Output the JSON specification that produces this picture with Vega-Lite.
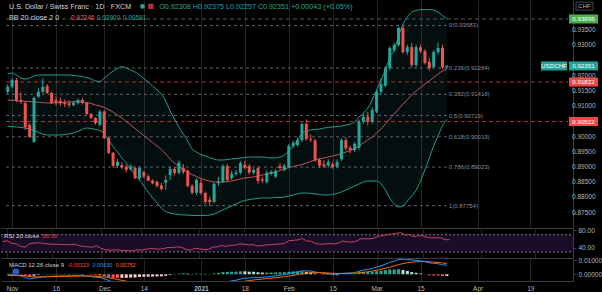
{
"$schema":"https://vega.github.io/schema/vega-lite/v6.json",
"background":"#000000",
"padding":{"left":0,"top":0,"right":0,"bottom":0},
"bounds":"flush",
"spacing":1,
"config":{"view":{"stroke":null},"font":"Liberation Sans","axis":{"labelFont":"Liberation Sans","labelFontSize":6.5,"labelColor":"#b2b5be","domainColor":"#3a3d45","tickColor":"#3a3d45","gridColor":"#222428","title":null,"labelOverlap":false},"line":{"strokeWidth":1}},
"datasets":{
"c":[
{"i":0,"o":0.9150,"h":0.9175,"l":0.9143,"c":0.9167,"u":0.92085,"m":0.91230,"b":0.90358,"r":54,"md":-0.0004,"sg":-0.0008,"hs":0.0004},
{"i":1,"o":0.9167,"h":0.9195,"l":0.9162,"c":0.9189,"u":0.92118,"m":0.91220,"b":0.90352,"r":56,"md":-0.0003,"sg":-0.0007,"hs":0.0004},
{"i":2,"o":0.9189,"h":0.9195,"l":0.9116,"c":0.9123,"u":0.92053,"m":0.91210,"b":0.90342,"r":50,"md":-0.0008,"sg":-0.00072,"hs":-0.00008},
{"i":3,"o":0.9123,"h":0.9149,"l":0.9110,"c":0.9118,"u":0.91954,"m":0.91197,"b":0.90325,"r":49,"md":-0.0012,"sg":-0.00082,"hs":-0.00038},
{"i":4,"o":0.9113,"h":0.9120,"l":0.9024,"c":0.9034,"u":0.91921,"m":0.91187,"b":0.90309,"r":43,"md":-0.0022,"sg":-0.0011,"hs":-0.0011},
{"i":5,"o":0.9041,"h":0.9047,"l":0.8999,"c":0.9001,"u":0.91954,"m":0.91177,"b":0.90276,"r":41,"md":-0.0032,"sg":-0.00152,"hs":-0.00168},
{"i":6,"o":0.8985,"h":0.9134,"l":0.8982,"c":0.9130,"u":0.92020,"m":0.91164,"b":0.90227,"r":49,"md":-0.0027,"sg":-0.00176,"hs":-0.00094},
{"i":7,"o":0.9134,"h":0.9162,"l":0.9130,"c":0.9150,"u":0.92053,"m":0.91154,"b":0.90161,"r":50.5,"md":-0.0022,"sg":-0.00185,"hs":-0.00035},
{"i":8,"o":0.9150,"h":0.9194,"l":0.9145,"c":0.9167,"u":0.92053,"m":0.91144,"b":0.90111,"r":51.5,"md":-0.0017,"sg":-0.00182,"hs":0.00012},
{"i":9,"o":0.9169,"h":0.9176,"l":0.9143,"c":0.9146,"u":0.92053,"m":0.91131,"b":0.90078,"r":50,"md":-0.0015,"sg":-0.00176,"hs":0.00026},
{"i":10,"o":0.9146,"h":0.9150,"l":0.9110,"c":0.9114,"u":0.92053,"m":0.91131,"b":0.90078,"r":48.5,"md":-0.0014,"sg":-0.00169,"hs":0.00029},
{"i":11,"o":0.9123,"h":0.9135,"l":0.9105,"c":0.9114,"u":0.92053,"m":0.91138,"b":0.90078,"r":48,"md":-0.0013,"sg":-0.00161,"hs":0.00031},
{"i":12,"o":0.9120,"h":0.9130,"l":0.9103,"c":0.9112,"u":0.92053,"m":0.91148,"b":0.90078,"r":47.8,"md":-0.0012,"sg":-0.00153,"hs":0.00033},
{"i":13,"o":0.9114,"h":0.9125,"l":0.9100,"c":0.9110,"u":0.92053,"m":0.91158,"b":0.90095,"r":47.5,"md":-0.0011,"sg":-0.00144,"hs":0.00034},
{"i":14,"o":0.9112,"h":0.9122,"l":0.9098,"c":0.9106,"u":0.92053,"m":0.91164,"b":0.90111,"r":47,"md":-0.0011,"sg":-0.00137,"hs":0.00027},
{"i":15,"o":0.9106,"h":0.9120,"l":0.9102,"c":0.9114,"u":0.92036,"m":0.91171,"b":0.90144,"r":47.5,"md":-0.0010,"sg":-0.0013,"hs":0.0003},
{"i":16,"o":0.9113,"h":0.9128,"l":0.9108,"c":0.9123,"u":0.92020,"m":0.91174,"b":0.90194,"r":48,"md":-0.0009,"sg":-0.00122,"hs":0.00032},
{"i":17,"o":0.9123,"h":0.9130,"l":0.9108,"c":0.9114,"u":0.92003,"m":0.91164,"b":0.90260,"r":45,"md":-0.0009,"sg":-0.00116,"hs":0.00026},
{"i":18,"o":0.9113,"h":0.9116,"l":0.9074,"c":0.9077,"u":0.91970,"m":0.91148,"b":0.90309,"r":43,"md":-0.0012,"sg":-0.00117,"hs":-0.00003},
{"i":19,"o":0.9077,"h":0.9080,"l":0.9060,"c":0.9064,"u":0.91921,"m":0.91115,"b":0.90292,"r":42,"md":-0.0016,"sg":-0.00125,"hs":-0.00035},
{"i":20,"o":0.9064,"h":0.9066,"l":0.9042,"c":0.9047,"u":0.91855,"m":0.91066,"b":0.90260,"r":41,"md":-0.0021,"sg":-0.00142,"hs":-0.00068},
{"i":21,"o":0.9041,"h":0.9090,"l":0.9038,"c":0.9085,"u":0.91839,"m":0.91033,"b":0.90227,"r":44.5,"md":-0.0022,"sg":-0.00158,"hs":-0.00062},
{"i":22,"o":0.9085,"h":0.9090,"l":0.8995,"c":0.8997,"u":0.91954,"m":0.90983,"b":0.90111,"r":38,"md":-0.0032,"sg":-0.0019,"hs":-0.0013},
{"i":23,"o":0.8998,"h":0.9001,"l":0.8945,"c":0.8949,"u":0.92069,"m":0.90918,"b":0.89914,"r":35.5,"md":-0.0043,"sg":-0.00238,"hs":-0.00192},
{"i":24,"o":0.8949,"h":0.8952,"l":0.8900,"c":0.8906,"u":0.92184,"m":0.90835,"b":0.89700,"r":34,"md":-0.0054,"sg":-0.00298,"hs":-0.00242},
{"i":25,"o":0.8906,"h":0.8930,"l":0.8900,"c":0.8920,"u":0.92266,"m":0.90736,"b":0.89519,"r":35,"md":-0.0061,"sg":-0.00361,"hs":-0.00249},
{"i":26,"o":0.8909,"h":0.8920,"l":0.8895,"c":0.8902,"u":0.92326,"m":0.90638,"b":0.89322,"r":34.5,"md":-0.0067,"sg":-0.00422,"hs":-0.00248},
{"i":27,"o":0.8904,"h":0.8910,"l":0.8885,"c":0.8893,"u":0.92283,"m":0.90523,"b":0.89157,"r":33.5,"md":-0.0073,"sg":-0.00484,"hs":-0.00246},
{"i":28,"o":0.8895,"h":0.8912,"l":0.8890,"c":0.8904,"u":0.92217,"m":0.90408,"b":0.88960,"r":33,"md":-0.0077,"sg":-0.00541,"hs":-0.00229},
{"i":29,"o":0.8899,"h":0.8905,"l":0.8862,"c":0.8866,"u":0.92151,"m":0.90292,"b":0.88763,"r":32.5,"md":-0.0082,"sg":-0.00597,"hs":-0.00223},
{"i":30,"o":0.8866,"h":0.8905,"l":0.8860,"c":0.8899,"u":0.92053,"m":0.90177,"b":0.88598,"r":35,"md":-0.0083,"sg":-0.00643,"hs":-0.00187},
{"i":31,"o":0.8885,"h":0.8890,"l":0.8866,"c":0.8871,"u":0.91937,"m":0.90062,"b":0.88401,"r":34.5,"md":-0.0086,"sg":-0.00687,"hs":-0.00173},
{"i":32,"o":0.8872,"h":0.8878,"l":0.8855,"c":0.8858,"u":0.91822,"m":0.89947,"b":0.88203,"r":36,"md":-0.0089,"sg":-0.00727,"hs":-0.00163},
{"i":33,"o":0.8858,"h":0.8862,"l":0.8845,"c":0.8849,"u":0.91691,"m":0.89832,"b":0.88006,"r":38,"md":-0.0092,"sg":-0.00766,"hs":-0.00154},
{"i":34,"o":0.8854,"h":0.8858,"l":0.8835,"c":0.8840,"u":0.91559,"m":0.89717,"b":0.87841,"r":37.5,"md":-0.0095,"sg":-0.00803,"hs":-0.00147},
{"i":35,"o":0.8842,"h":0.8850,"l":0.8825,"c":0.8830,"u":0.91427,"m":0.89601,"b":0.87677,"r":36.5,"md":-0.0098,"sg":-0.00838,"hs":-0.00142},
{"i":36,"o":0.8851,"h":0.8875,"l":0.8828,"c":0.8860,"u":0.91197,"m":0.89453,"b":0.87555,"r":38,"md":-0.0097,"sg":-0.00864,"hs":-0.00106},
{"i":37,"o":0.8876,"h":0.8905,"l":0.8860,"c":0.8896,"u":0.90868,"m":0.89289,"b":0.87512,"r":40.5,"md":-0.0092,"sg":-0.00875,"hs":-0.00045},
{"i":38,"o":0.8896,"h":0.8902,"l":0.8875,"c":0.8883,"u":0.90605,"m":0.89157,"b":0.87479,"r":40,"md":-0.0089,"sg":-0.00878,"hs":-0.00012},
{"i":39,"o":0.8883,"h":0.8924,"l":0.8878,"c":0.8917,"u":0.90342,"m":0.89042,"b":0.87463,"r":42,"md":-0.0082,"sg":-0.00866,"hs":0.00046},
{"i":40,"o":0.8900,"h":0.8912,"l":0.8880,"c":0.8886,"u":0.90111,"m":0.88943,"b":0.87447,"r":41,"md":-0.0078,"sg":-0.00849,"hs":0.00069},
{"i":41,"o":0.8890,"h":0.8895,"l":0.8836,"c":0.8840,"u":0.89881,"m":0.88861,"b":0.87447,"r":36,"md":-0.0079,"sg":-0.00837,"hs":0.00047},
{"i":42,"o":0.8840,"h":0.8846,"l":0.8812,"c":0.8818,"u":0.89618,"m":0.88779,"b":0.87430,"r":34.5,"md":-0.0081,"sg":-0.00832,"hs":0.00022},
{"i":43,"o":0.8818,"h":0.8866,"l":0.8810,"c":0.8860,"u":0.89519,"m":0.88713,"b":0.87430,"r":38.5,"md":-0.0078,"sg":-0.00822,"hs":0.00042},
{"i":44,"o":0.8850,"h":0.8862,"l":0.8812,"c":0.8817,"u":0.89437,"m":0.88648,"b":0.87430,"r":37.5,"md":-0.0077,"sg":-0.00812,"hs":0.00042},
{"i":45,"o":0.8817,"h":0.8822,"l":0.8780,"c":0.8788,"u":0.89388,"m":0.88598,"b":0.87430,"r":35.5,"md":-0.0078,"sg":-0.00806,"hs":0.00026},
{"i":46,"o":0.8795,"h":0.8805,"l":0.87754,"c":0.8787,"u":0.89338,"m":0.88565,"b":0.87447,"r":36,"md":-0.0079,"sg":-0.00803,"hs":0.00013},
{"i":47,"o":0.8788,"h":0.8852,"l":0.8783,"c":0.8847,"u":0.89289,"m":0.88532,"b":0.87479,"r":41,"md":-0.0073,"sg":-0.00788,"hs":0.00058},
{"i":48,"o":0.8849,"h":0.8870,"l":0.8840,"c":0.8854,"u":0.89256,"m":0.88532,"b":0.87545,"r":42,"md":-0.0067,"sg":-0.00764,"hs":0.00094},
{"i":49,"o":0.8854,"h":0.8912,"l":0.8850,"c":0.8906,"u":0.89256,"m":0.88532,"b":0.87611,"r":45,"md":-0.0057,"sg":-0.00725,"hs":0.00155},
{"i":50,"o":0.8906,"h":0.8912,"l":0.8855,"c":0.8860,"u":0.89272,"m":0.88549,"b":0.87677,"r":43,"md":-0.0052,"sg":-0.00684,"hs":0.00164},
{"i":51,"o":0.8866,"h":0.8890,"l":0.8860,"c":0.8880,"u":0.89289,"m":0.88565,"b":0.87743,"r":45.5,"md":-0.0046,"sg":-0.00639,"hs":0.00179},
{"i":52,"o":0.8880,"h":0.8893,"l":0.8874,"c":0.8884,"u":0.89305,"m":0.88598,"b":0.87808,"r":46,"md":-0.0041,"sg":-0.00593,"hs":0.00183},
{"i":53,"o":0.8884,"h":0.8922,"l":0.8878,"c":0.8916,"u":0.89322,"m":0.88631,"b":0.87874,"r":49,"md":-0.0033,"sg":-0.0054,"hs":0.0021},
{"i":54,"o":0.8910,"h":0.8922,"l":0.8895,"c":0.8900,"u":0.89338,"m":0.88664,"b":0.87924,"r":48,"md":-0.0028,"sg":-0.00488,"hs":0.00208},
{"i":55,"o":0.8906,"h":0.8912,"l":0.8878,"c":0.8884,"u":0.89355,"m":0.88680,"b":0.87956,"r":46.5,"md":-0.0026,"sg":-0.00442,"hs":0.00182},
{"i":56,"o":0.8884,"h":0.8898,"l":0.8878,"c":0.8893,"u":0.89355,"m":0.88697,"b":0.87973,"r":47,"md":-0.0022,"sg":-0.00398,"hs":0.00178},
{"i":57,"o":0.8899,"h":0.8905,"l":0.8848,"c":0.8856,"u":0.89355,"m":0.88730,"b":0.87989,"r":44,"md":-0.0022,"sg":-0.00362,"hs":0.00142},
{"i":58,"o":0.8862,"h":0.8870,"l":0.8850,"c":0.8858,"u":0.89355,"m":0.88763,"b":0.88006,"r":44.5,"md":-0.0021,"sg":-0.00332,"hs":0.00122},
{"i":59,"o":0.8853,"h":0.8890,"l":0.8848,"c":0.8884,"u":0.89338,"m":0.88795,"b":0.88006,"r":46.5,"md":-0.0018,"sg":-0.00302,"hs":0.00122},
{"i":60,"o":0.8880,"h":0.8892,"l":0.8875,"c":0.8887,"u":0.89322,"m":0.88828,"b":0.88006,"r":47,"md":-0.0015,"sg":-0.00272,"hs":0.00122},
{"i":61,"o":0.8871,"h":0.8895,"l":0.8866,"c":0.8890,"u":0.89322,"m":0.88861,"b":0.88022,"r":48,"md":-0.0011,"sg":-0.0024,"hs":0.0013},
{"i":62,"o":0.8905,"h":0.8915,"l":0.8895,"c":0.8899,"u":0.89355,"m":0.88911,"b":0.88022,"r":48.5,"md":-0.0007,"sg":-0.00206,"hs":0.00136},
{"i":63,"o":0.8893,"h":0.8912,"l":0.8888,"c":0.8907,"u":0.89421,"m":0.88960,"b":0.88039,"r":49.5,"md":-0.0003,"sg":-0.00171,"hs":0.00141},
{"i":64,"o":0.8902,"h":0.8978,"l":0.8898,"c":0.8972,"u":0.89552,"m":0.89009,"b":0.88072,"r":56,"md":0.0005,"sg":-0.00127,"hs":0.00177},
{"i":65,"o":0.8972,"h":0.8990,"l":0.8965,"c":0.8982,"u":0.89717,"m":0.89042,"b":0.88105,"r":57,"md":0.0012,"sg":-0.00078,"hs":0.00198},
{"i":66,"o":0.8975,"h":0.8998,"l":0.8970,"c":0.8991,"u":0.89914,"m":0.89075,"b":0.88137,"r":58,"md":0.0017,"sg":-0.00028,"hs":0.00198},
{"i":67,"o":0.8991,"h":0.9050,"l":0.8985,"c":0.9044,"u":0.90144,"m":0.89108,"b":0.88170,"r":61.5,"md":0.0024,"sg":0.00026,"hs":0.00214},
{"i":68,"o":0.9044,"h":0.9059,"l":0.8990,"c":0.8995,"u":0.90210,"m":0.89157,"b":0.88170,"r":55.5,"md":0.0024,"sg":0.00069,"hs":0.00171},
{"i":69,"o":0.8995,"h":0.9010,"l":0.8985,"c":0.8992,"u":0.90243,"m":0.89207,"b":0.88154,"r":55,"md":0.0023,"sg":0.00101,"hs":0.00129},
{"i":70,"o":0.8990,"h":0.8995,"l":0.8920,"c":0.8926,"u":0.90260,"m":0.89256,"b":0.88137,"r":49.5,"md":0.0017,"sg":0.00115,"hs":0.00055},
{"i":71,"o":0.8926,"h":0.8932,"l":0.8900,"c":0.8907,"u":0.90276,"m":0.89289,"b":0.88121,"r":48,"md":0.0011,"sg":0.00114,"hs":-0.00004},
{"i":72,"o":0.8912,"h":0.8925,"l":0.8900,"c":0.8905,"u":0.90309,"m":0.89322,"b":0.88105,"r":48.5,"md":0.0007,"sg":0.00105,"hs":-0.00035},
{"i":73,"o":0.8907,"h":0.8928,"l":0.8902,"c":0.8920,"u":0.90325,"m":0.89355,"b":0.88105,"r":49.5,"md":0.0004,"sg":0.00092,"hs":-0.00052},
{"i":74,"o":0.8912,"h":0.8920,"l":0.8897,"c":0.8902,"u":0.90342,"m":0.89388,"b":0.88121,"r":48.5,"md":0.0001,"sg":0.00076,"hs":-0.00066},
{"i":75,"o":0.8904,"h":0.8928,"l":0.8898,"c":0.8920,"u":0.90358,"m":0.89421,"b":0.88154,"r":50,"md":0.0000,"sg":0.00061,"hs":-0.00061},
{"i":76,"o":0.8928,"h":0.8997,"l":0.8922,"c":0.8991,"u":0.90375,"m":0.89470,"b":0.88203,"r":55.5,"md":0.0006,"sg":0.00061,"hs":-0.00001},
{"i":77,"o":0.8991,"h":0.9000,"l":0.8958,"c":0.8964,"u":0.90408,"m":0.89519,"b":0.88269,"r":53.5,"md":0.0008,"sg":0.00065,"hs":0.00015},
{"i":78,"o":0.8966,"h":0.8972,"l":0.8948,"c":0.8959,"u":0.90440,"m":0.89569,"b":0.88335,"r":53,"md":0.0009,"sg":0.0007,"hs":0.0002},
{"i":79,"o":0.8958,"h":0.8985,"l":0.8952,"c":0.8979,"u":0.90506,"m":0.89634,"b":0.88401,"r":54.5,"md":0.0012,"sg":0.0008,"hs":0.0004},
{"i":80,"o":0.8966,"h":0.9058,"l":0.8960,"c":0.9052,"u":0.90671,"m":0.89717,"b":0.88466,"r":60,"md":0.0021,"sg":0.00106,"hs":0.00104},
{"i":81,"o":0.9052,"h":0.9078,"l":0.9045,"c":0.9068,"u":0.90802,"m":0.89815,"b":0.88532,"r":61,"md":0.0029,"sg":0.00143,"hs":0.00147},
{"i":82,"o":0.9068,"h":0.9085,"l":0.9040,"c":0.9052,"u":0.90967,"m":0.89914,"b":0.88565,"r":60,"md":0.0034,"sg":0.00182,"hs":0.00158},
{"i":83,"o":0.9052,"h":0.9098,"l":0.9045,"c":0.9090,"u":0.91230,"m":0.90013,"b":0.88565,"r":62,"md":0.0041,"sg":0.00228,"hs":0.00182},
{"i":84,"o":0.9085,"h":0.9158,"l":0.9080,"c":0.9150,"u":0.91559,"m":0.90144,"b":0.88565,"r":66,"md":0.0050,"sg":0.00282,"hs":0.00218},
{"i":85,"o":0.9150,"h":0.9195,"l":0.9140,"c":0.9175,"u":0.91888,"m":0.90276,"b":0.88466,"r":68,"md":0.0060,"sg":0.00346,"hs":0.00254},
{"i":86,"o":0.9170,"h":0.9235,"l":0.9165,"c":0.9228,"u":0.92217,"m":0.90440,"b":0.88269,"r":70,"md":0.0071,"sg":0.00419,"hs":0.00291},
{"i":87,"o":0.9228,"h":0.9300,"l":0.9220,"c":0.9294,"u":0.92645,"m":0.90605,"b":0.88006,"r":72,"md":0.0083,"sg":0.00501,"hs":0.00329},
{"i":88,"o":0.9287,"h":0.9312,"l":0.9280,"c":0.9304,"u":0.92875,"m":0.90769,"b":0.87808,"r":73,"md":0.0092,"sg":0.00585,"hs":0.00335},
{"i":89,"o":0.9304,"h":0.9365,"l":0.9298,"c":0.9360,"u":0.93336,"m":0.90934,"b":0.87710,"r":75,"md":0.0103,"sg":0.00674,"hs":0.00356},
{"i":90,"o":0.9360,"h":0.93683,"l":0.9275,"c":0.9281,"u":0.93730,"m":0.91098,"b":0.87743,"r":69.5,"md":0.0105,"sg":0.00749,"hs":0.00301},
{"i":91,"o":0.9281,"h":0.9305,"l":0.9272,"c":0.9297,"u":0.93961,"m":0.91246,"b":0.87907,"r":70,"md":0.0105,"sg":0.00809,"hs":0.00241},
{"i":92,"o":0.9297,"h":0.9310,"l":0.9230,"c":0.9238,"u":0.94125,"m":0.91395,"b":0.88072,"r":65.5,"md":0.0100,"sg":0.00847,"hs":0.00153},
{"i":93,"o":0.9238,"h":0.9305,"l":0.9232,"c":0.9297,"u":0.94175,"m":0.91526,"b":0.88269,"r":68,"md":0.0098,"sg":0.00874,"hs":0.00106},
{"i":94,"o":0.9296,"h":0.9305,"l":0.9278,"c":0.9284,"u":0.94207,"m":0.91641,"b":0.88565,"r":67,"md":0.0094,"sg":0.00887,"hs":0.00053},
{"i":95,"o":0.9284,"h":0.9290,"l":0.9240,"c":0.9245,"u":0.94207,"m":0.91756,"b":0.88927,"r":64,"md":0.0088,"sg":0.00886,"hs":-0.00006},
{"i":96,"o":0.9249,"h":0.9262,"l":0.9220,"c":0.9228,"u":0.94207,"m":0.91855,"b":0.89322,"r":62.5,"md":0.0080,"sg":0.00869,"hs":-0.00069},
{"i":97,"o":0.9232,"h":0.9288,"l":0.9226,"c":0.9281,"u":0.94191,"m":0.91970,"b":0.89717,"r":63,"md":0.0077,"sg":0.00849,"hs":-0.00079},
{"i":98,"o":0.9280,"h":0.9312,"l":0.9272,"c":0.9294,"u":0.94125,"m":0.92085,"b":0.90046,"r":62.5,"md":0.0074,"sg":0.00827,"hs":-0.00087},
{"i":99,"o":0.9294,"h":0.9305,"l":0.9225,"c":0.92308,"u":0.94010,"m":0.92184,"b":0.90375,"r":58.5,"md":0.0066,"sg":0.00794,"hs":-0.00134},
{"i":100,"o":0.92308,"h":0.92375,"l":0.92257,"c":0.92351,"u":0.93900,"m":0.92246,"b":0.90591,"r":58.31,"md":0.0063,"sg":0.00752,"hs":-0.00123}
],
"fib":[{"lb":"0(0.93683)","p":0.93683},{"lb":"0.236(0.92284)","p":0.92284},{"lb":"0.382(0.91418)","p":0.91418},{"lb":"0.5(0.90719)","p":0.90719},{"lb":"0.618(0.90019)","p":0.90019},{"lb":"0.786(0.89023)","p":0.89023},{"lb":"1(0.87754)","p":0.87754}],
"lvl":[{"p":0.93896,"k":"g"},{"p":0.91822,"k":"r"},{"p":0.90522,"k":"r"}],
"tags":[{"p":0.93896,"k":"g"},{"p":0.92351,"k":"t"},{"p":0.91822,"k":"r"},{"p":0.90522,"k":"r"}],
"pticks":[{"v":0.875},{"v":0.88},{"v":0.885},{"v":0.89},{"v":0.895},{"v":0.9},{"v":0.91},{"v":0.915},{"v":0.92},{"v":0.93},{"v":0.935}],
"rsiLv":[{"v":30},{"v":70}]
},
"vconcat":[
{"width":572,"height":228,
 "layer":[
  {"data":{"name":"c"},"mark":{"type":"area","color":"#26a69a","opacity":0.09,"interpolate":"monotone"},
   "encoding":{"x":{"field":"i","type":"quantitative","scale":{"domain":[-0.38,127.58],"nice":false,"zero":false},"axis":{"values":[1,11,22,31,44,54,64,74,84,94,107,119],"labels":false,"ticks":false,"tickSize":0,"domain":true,"grid":true,"orient":"bottom"}},
    "y":{"field":"u","type":"quantitative","scale":{"domain":[0.87019,0.9452],"nice":false,"zero":false},"axis":{"orient":"right","values":[0.875,0.88,0.885,0.89,0.895,0.9,0.905,0.91,0.915,0.92,0.925,0.93,0.935,0.94,0.945],"labels":false,"grid":false,"tickSize":3}},
    "y2":{"field":"b"}}},
  {"data":{"name":"pticks"},"mark":{"type":"text","align":"left","baseline":"middle","fontSize":6.5,"color":"#b2b5be","dx":4,"dy":-0.8},
   "encoding":{"x":{"datum":127.58},"y":{"field":"v","type":"quantitative"},"text":{"field":"v","type":"quantitative","format":".5f"}}},
  {"data":{"name":"fib"},"mark":{"type":"rule","color":"#5d606b","strokeDash":[3,3],"strokeWidth":1},
   "encoding":{"x":{"datum":-0.38},"x2":{"datum":100},"y":{"field":"p","type":"quantitative"}}},
  {"data":{"name":"lvl"},"mark":{"type":"rule","strokeDash":[4,3],"strokeWidth":1},
   "encoding":{"x":{"datum":-0.38},"x2":{"datum":127.58},"y":{"field":"p","type":"quantitative"},
    "color":{"condition":{"test":"datum.k=='r'","value":"#a8323a"},"value":"#4f5a50"}}},
  {"data":{"name":"c"},"mark":{"type":"line","color":"#1f9e8a","interpolate":"monotone"},
   "encoding":{"x":{"field":"i","type":"quantitative"},"y":{"field":"u","type":"quantitative"}}},
  {"data":{"name":"c"},"mark":{"type":"line","color":"#1f9e8a","interpolate":"monotone"},
   "encoding":{"x":{"field":"i","type":"quantitative"},"y":{"field":"b","type":"quantitative"}}},
  {"data":{"name":"c"},"mark":{"type":"line","color":"#c8505e","interpolate":"monotone"},
   "encoding":{"x":{"field":"i","type":"quantitative"},"y":{"field":"m","type":"quantitative"}}},
  {"data":{"name":"c"},"mark":{"type":"rule","strokeWidth":1},
   "encoding":{"x":{"field":"i","type":"quantitative"},"y":{"field":"l","type":"quantitative"},"y2":{"field":"h"},
    "color":{"condition":{"test":"datum.c>=datum.o","value":"#26a69a"},"value":"#ef5350"}}},
  {"data":{"name":"c"},"mark":{"type":"bar","size":3},
   "encoding":{"x":{"field":"i","type":"quantitative"},"y":{"field":"o","type":"quantitative"},"y2":{"field":"c"},
    "color":{"condition":{"test":"datum.c>=datum.o","value":"#26a69a"},"value":"#ef5350"}}},
  {"data":{"name":"fib"},"mark":{"type":"text","align":"left","baseline":"middle","fontSize":6,"color":"#8a8d96","dx":2},
   "encoding":{"x":{"datum":100},"y":{"field":"p","type":"quantitative"},"text":{"field":"lb"}}},
  {"data":{"name":"tags"},"mark":{"type":"rect","xOffset":1,"x2Offset":30,"yOffset":-4.5,"y2Offset":4.5},
   "encoding":{"x":{"datum":127.58},"x2":{"datum":127.58},"y":{"field":"p","type":"quantitative"},"y2":{"field":"p"},
    "color":{"condition":[{"test":"datum.k=='g'","value":"#4caf50"},{"test":"datum.k=='t'","value":"#22a39a"}],"value":"#f04848"}}},
  {"data":{"name":"tags"},"mark":{"type":"text","align":"center","baseline":"middle","fontSize":6.2,"color":"#ffffff","dx":15.5,"dy":0.3},
   "encoding":{"x":{"datum":127.58},"y":{"field":"p","type":"quantitative"},"text":{"field":"p","type":"quantitative","format":".5f"}}},
  {"data":{"values":[{"p":0.92351}]},"mark":{"type":"rect","color":"#22a39a","xOffset":-27,"x2Offset":-1,"yOffset":-4.5,"y2Offset":4.5},
   "encoding":{"x":{"datum":127.58},"x2":{"datum":127.58},"y":{"field":"p","type":"quantitative"},"y2":{"field":"p"}}},
  {"data":{"values":[{"p":0.92351}]},"mark":{"type":"text","text":"USDCHF","align":"center","baseline":"middle","fontSize":6.2,"color":"#ffffff","dx":-14},
   "encoding":{"x":{"datum":127.58},"y":{"field":"p","type":"quantitative"}}},
  {"data":{"values":[{}]},"mark":{"type":"rect","fill":"#000000","stroke":"#434651","strokeWidth":1,"xOffset":8,"x2Offset":25,"yOffset":-4,"y2Offset":4},
   "encoding":{"x":{"datum":127.58},"x2":{"datum":127.58},"y":{"datum":0.9432},"y2":{"datum":0.9432}}},
  {"data":{"values":[{}]},"mark":{"type":"text","text":"CHF","align":"center","baseline":"middle","fontSize":6,"color":"#b2b5be","dx":16.5},
   "encoding":{"x":{"datum":127.58},"y":{"datum":0.9432}}},
  {"data":{"values":[{}]},"mark":{"type":"text","text":"U.S. Dollar / Swiss Franc · 1D · FXCM","align":"left","baseline":"middle","fontSize":7.2,"color":"#d1d4dc"},
   "encoding":{"x":{"datum":0.29},"y":{"datum":0.9429}}},
  {"data":{"values":[{}]},"mark":{"type":"point","shape":"circle","filled":true,"size":22,"color":"#26a69a","opacity":1},
   "encoding":{"x":{"datum":30.7},"y":{"datum":0.9431}}},
  {"data":{"values":[{}]},"mark":{"type":"point","shape":"square","filled":true,"size":28,"color":"#b0303c","opacity":1},
   "encoding":{"x":{"datum":32.6},"y":{"datum":0.9431}}},
  {"data":{"values":[{}]},"mark":{"type":"text","text":"O0.92308  H0.92375  L0.92257  C0.92351  +0.00043 (+0.05%)","align":"left","baseline":"middle","fontSize":7.2,"color":"#26a69a"},
   "encoding":{"x":{"datum":34.5},"y":{"datum":0.9429}}},
  {"data":{"values":[{}]},"mark":{"type":"text","text":"BB 20 close 2 0","align":"left","baseline":"middle","fontSize":7.2,"color":"#d1d4dc"},
   "encoding":{"x":{"datum":0.29},"y":{"datum":0.93928}}},
  {"data":{"values":[{}]},"mark":{"type":"text","text":"0.92246","align":"left","baseline":"middle","fontSize":6.5,"color":"#e0606c"},
   "encoding":{"x":{"datum":14.4},"y":{"datum":0.93928}}},
  {"data":{"values":[{}]},"mark":{"type":"text","text":"0.93900","align":"left","baseline":"middle","fontSize":6.5,"color":"#26a69a"},
   "encoding":{"x":{"datum":20.3},"y":{"datum":0.93928}}},
  {"data":{"values":[{}]},"mark":{"type":"text","text":"0.90591","align":"left","baseline":"middle","fontSize":6.5,"color":"#26a69a"},
   "encoding":{"x":{"datum":26.2},"y":{"datum":0.93928}}}
 ]},
{"width":572,"height":29,
 "layer":[
  {"data":{"values":[{}]},"mark":{"type":"rect","color":"#1a0d28"},
   "encoding":{"x":{"datum":-0.38},"x2":{"datum":127.58},"y":{"datum":30},"y2":{"datum":70}}},
  {"data":{"name":"rsiLv"},"mark":{"type":"rule","color":"#787b86","strokeDash":[2,2],"strokeWidth":1},
   "encoding":{"x":{"datum":-0.38},"x2":{"datum":127.58},"y":{"field":"v","type":"quantitative"}}},
  {"data":{"name":"c"},"mark":{"type":"line","color":"#c8415e"},
   "encoding":{"x":{"field":"i","type":"quantitative","scale":{"domain":[-0.38,127.58],"nice":false,"zero":false},"axis":{"values":[1,11,22,31,44,54,64,74,84,94,107,119],"labels":false,"ticks":false,"tickSize":0,"domain":true,"grid":true,"orient":"bottom"}},
    "y":{"field":"r","type":"quantitative","scale":{"domain":[16.1,83.2],"nice":false,"zero":false},"axis":{"orient":"right","values":[40,80],"format":".2f","grid":false,"tickSize":3,"labelPadding":2,"labelOverlap":false}}}},
  {"data":{"values":[{}]},"mark":{"type":"text","text":"RSI 20 close","align":"left","baseline":"middle","fontSize":6.2,"color":"#d1d4dc"},
   "encoding":{"x":{"datum":0.29},"y":{"datum":67}}},
  {"data":{"values":[{}]},"mark":{"type":"text","text":"58.31","align":"left","baseline":"middle","fontSize":6.2,"color":"#e0404f"},
   "encoding":{"x":{"datum":8.8},"y":{"datum":67}}}
 ]},
{"width":572,"height":22,
 "layer":[
  {"data":{"name":"c"},"transform":[{"window":[{"op":"lag","field":"hs","as":"ph"}],"sort":[{"field":"i"}]}],
   "mark":{"type":"bar","size":3,"clip":true},
   "encoding":{"x":{"field":"i","type":"quantitative","scale":{"domain":[-0.38,127.58],"nice":false,"zero":false},"axis":{"values":[1,11,22,31,44,54,64,74,84,94,107,119],"labelExpr":"['Nov','16','Dec','14','2021','18','Feb','15','Mar','15','Apr','19'][indexof([1,11,22,31,44,54,64,74,84,94,107,119], datum.value)]","labelFontWeight":{"expr":"datum.value==44?'bold':'normal'"},"ticks":false,"tickSize":0,"labelPadding":4,"domain":true,"grid":true,"orient":"bottom","labelFlush":false,"labelOverlap":false}},
    "y":{"field":"hs","type":"quantitative","scale":{"domain":[-0.00469,0.0107],"nice":false,"zero":false},"axis":{"orient":"right","values":[0,0.01],"format":".5f","grid":false,"tickSize":3,"labelPadding":2,"labelOverlap":false}},
    "y2":{"datum":0},
    "color":{"condition":[{"test":"datum.hs>=0 && (datum.ph==null || datum.hs>=datum.ph)","value":"#26a69a"},{"test":"datum.hs>=0","value":"#b2dfdb"},{"test":"datum.hs>datum.ph","value":"#ffcdd2"}],"value":"#ff5252"}}},
  {"data":{"name":"c"},"mark":{"type":"line","color":"#2196f3","clip":true},
   "encoding":{"x":{"field":"i","type":"quantitative"},"y":{"field":"md","type":"quantitative"}}},
  {"data":{"name":"c"},"mark":{"type":"line","color":"#ff6d00","clip":true},
   "encoding":{"x":{"field":"i","type":"quantitative"},"y":{"field":"sg","type":"quantitative"}}},
  {"data":{"values":[{}]},"mark":{"type":"point","shape":"circle","filled":true,"size":40,"color":"#2a5bd7","opacity":1},
   "encoding":{"x":{"datum":1.9},"y":{"datum":0.0018}}},
  {"data":{"values":[{}]},"mark":{"type":"text","text":"MACD 12 26 close 9","align":"left","baseline":"middle","fontSize":6,"color":"#d1d4dc"},
   "encoding":{"x":{"datum":0.29},"y":{"datum":0.0065}}},
  {"data":{"values":[{}]},"mark":{"type":"text","text":"-0.00123","align":"left","baseline":"middle","fontSize":5.5,"color":"#ef5350"},
   "encoding":{"x":{"datum":13.6},"y":{"datum":0.0065}}},
  {"data":{"values":[{}]},"mark":{"type":"text","text":"0.00630","align":"left","baseline":"middle","fontSize":5.5,"color":"#2196f3"},
   "encoding":{"x":{"datum":19.3},"y":{"datum":0.0065}}},
  {"data":{"values":[{}]},"mark":{"type":"text","text":"0.00752","align":"left","baseline":"middle","fontSize":5.5,"color":"#ff6d00"},
   "encoding":{"x":{"datum":24.6},"y":{"datum":0.0065}}}
 ]}
]
}
